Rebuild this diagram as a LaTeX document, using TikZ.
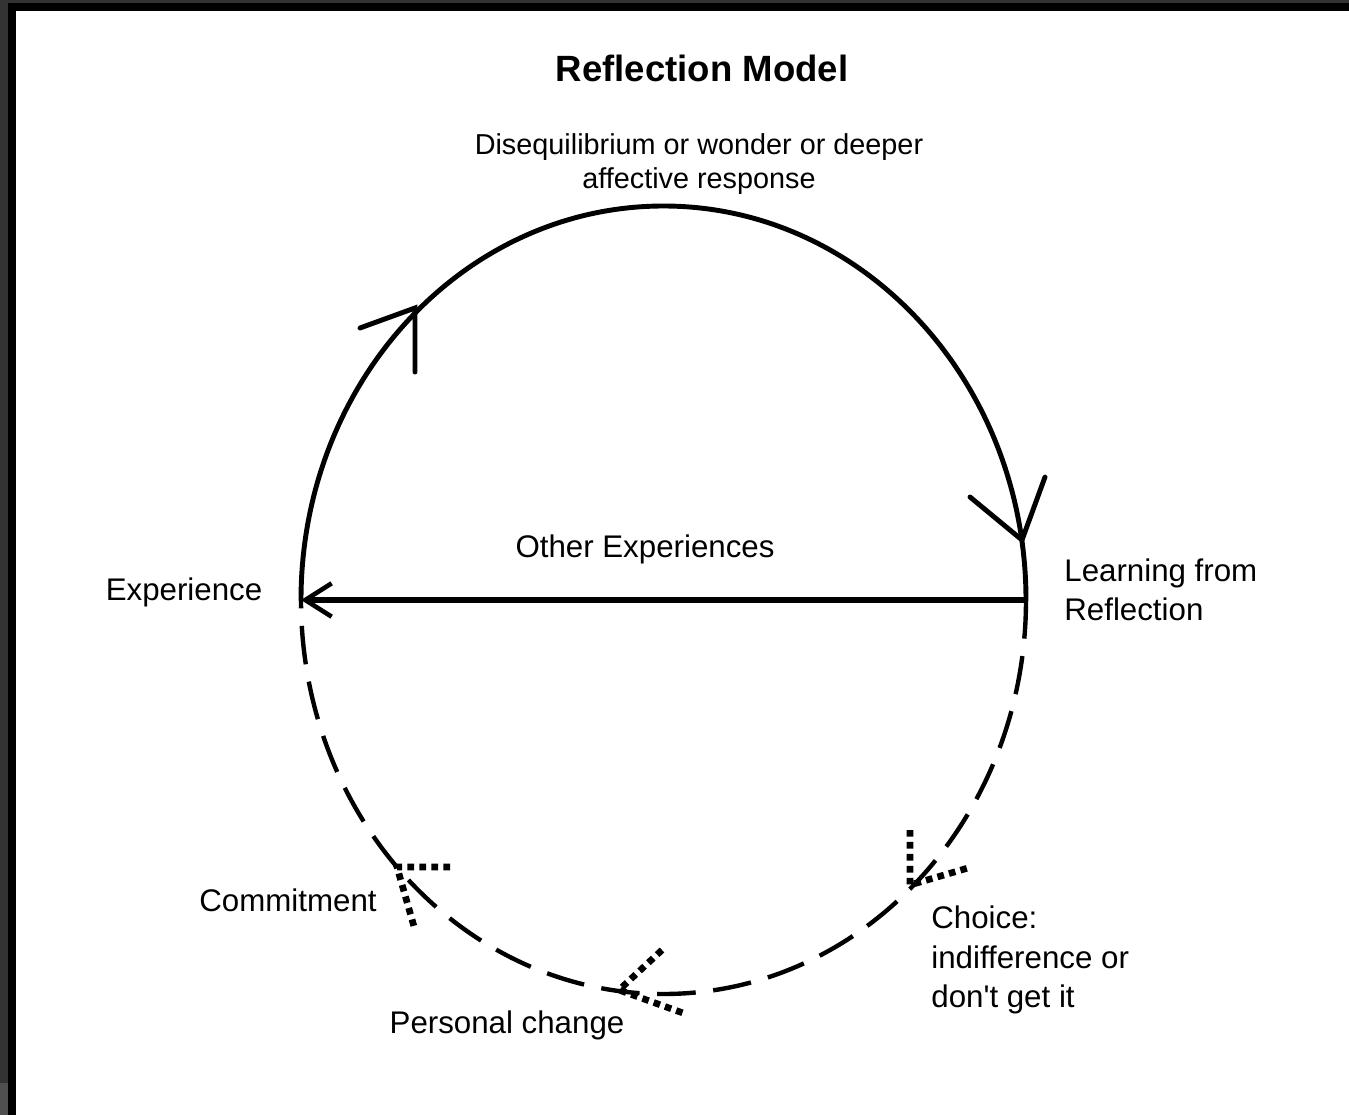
\documentclass[tikz,border=0pt]{standalone}
\usepackage{fontspec}
\setmainfont{Liberation Sans}
\usepackage{xcolor}
\usepackage{tikz}
\usetikzlibrary{arrows.meta}
\definecolor{frameg}{HTML}{333333}
\definecolor{framel}{HTML}{505050}

\begin{document}
\begin{tikzpicture}[x=0.02cm,y=0.02cm,
    lbl/.style={inner sep=0pt,font=\fontsize{17.8}{22.4}\selectfont},
    solidline/.style={line width=2.8pt,line cap=round},
    dashline/.style={line width=2.5pt,dash pattern=on 22pt off 10pt},
    dotline/.style={line width=3.8pt,dash pattern=on 3.8pt off 3pt}]
    \useasboundingbox (0,0) rectangle (1349,-1115);
    %画布大小(1349,1115)
    \fill[frameg] (0,0) rectangle (8,-1115);
    \fill[framel] (0,-1083) rectangle (8,-1115);
    \fill[frameg] (0,0) rectangle (1349,-3);
    \fill[black] (8,-3) rectangle (16,-1115);
    \fill[black] (8,-3) rectangle (1349,-11);
    %左边和上边的深色边框
    \coordinate (expt) at (301,-600);
    \coordinate (lrnt) at (1026,-600);
    %椭圆左右两点
    \draw[solidline] (expt) arc[start angle=180, end angle=0, x radius=362.5, y radius=394];
    %上半圆弧,实线
    \draw[dashline] (lrnt) arc[start angle=0, end angle=-180, x radius=362.5, y radius=394];
    %下半圆弧,虚线
    \draw[line width=3.2pt,-{Straight Barb[length=15pt,width=19pt,line width=2.6pt]}] (lrnt) -- (expt);
    %中间的横向箭头
    \coordinate (tipa) at (415,-308);
    \draw[solidline] (360,-328) -- (tipa) -- (415,-372);
    \coordinate (tipb) at (1022,-540);
    \draw[solidline] (970,-497) -- (tipb) -- (1045,-477);
    %实线上的两个箭头
    \coordinate (tipc) at (910,-885);
    \draw[dotline] (910,-830) -- (tipc) -- (968,-868);
    \coordinate (tipd) at (619,-990);
    \draw[dotline] (662,-950) -- (tipd) -- (683,-1013);
    \coordinate (tipe) at (397,-867);
    \draw[dotline] (450,-867) -- (tipe) -- (415,-930);
    %虚线上的三个点线箭头
    \node[inner sep=0pt,font=\fontsize{20.8}{25}\selectfont\bfseries] (ttl) at (702,-68) {Reflection Model};
    \node[inner sep=0pt,align=center,font=\fontsize{16.4}{19.8}\selectfont] (dis) at (699,-164) {Disequilibrium or wonder or deeper\\affective response};
    \node[lbl] (oth) at (645,-549) {Other Experiences};
    \node[lbl] (expl) at (184,-592) {Experience};
    \node[lbl,align=left,anchor=west] (lrnl) at (1064,-590) {Learning from\\Reflection};
    \node[lbl] (com) at (288,-900) {Commitment};
    \node[lbl,align=left,anchor=west] (cho) at (931,-960) {Choice:\\indifference or\\don\textquotesingle t get it};
    \node[lbl] (per) at (507,-1025) {Personal change};
    %各个文字标签
\end{tikzpicture}
\end{document}
